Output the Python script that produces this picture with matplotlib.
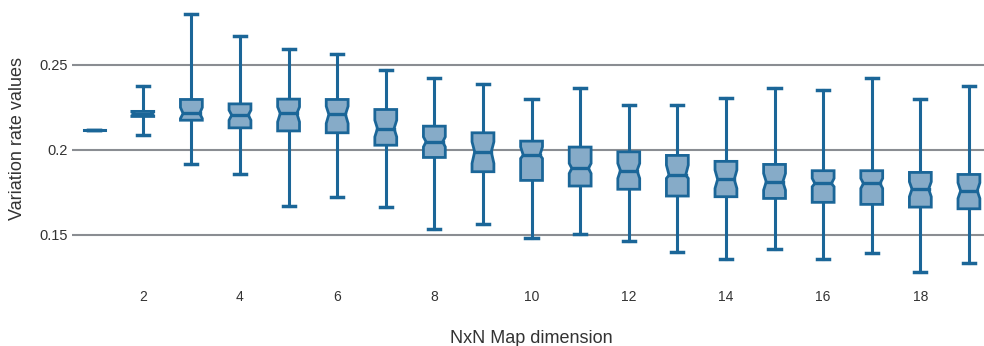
import matplotlib
matplotlib.use("Agg")
import matplotlib.pyplot as plt
from matplotlib.patches import Polygon

# NxN map dimension -> box statistics
dims = list(range(1, 20))
whisker_lo = [0.2116, 0.2087, 0.1915, 0.1854, 0.1667, 0.1721, 0.1662, 0.1531, 0.1563, 0.1479,
              0.1502, 0.1464, 0.1396, 0.1357, 0.1414, 0.1357, 0.1390, 0.1282, 0.1332]
q1 = [0.2116, 0.2195, 0.2173, 0.2128, 0.2110, 0.2099, 0.2026, 0.1954, 0.1870, 0.1819,
      0.1786, 0.1767, 0.1727, 0.1723, 0.1713, 0.1690, 0.1678, 0.1662, 0.1652]
median = [0.2116, 0.2210, 0.2213, 0.2203, 0.2213, 0.2207, 0.2124, 0.2046, 0.1987, 0.1968,
          0.1890, 0.1877, 0.1850, 0.1825, 0.1811, 0.1801, 0.1801, 0.1768, 0.1758]
q3 = [0.2116, 0.2225, 0.2295, 0.2269, 0.2297, 0.2295, 0.2236, 0.2138, 0.2099, 0.2050,
      0.2015, 0.1987, 0.1966, 0.1931, 0.1913, 0.1876, 0.1876, 0.1866, 0.1854]
whisker_hi = [0.2116, 0.2373, 0.2796, 0.2671, 0.2590, 0.2561, 0.2467, 0.2424, 0.2385, 0.2297,
              0.2361, 0.2265, 0.2265, 0.2306, 0.2361, 0.2349, 0.2422, 0.2297, 0.2377]
notch_lo = [0.2116, 0.2200, 0.2183, 0.2173, 0.2163, 0.2154, 0.2075, 0.2016, 0.1919, 0.1948,
            0.1860, 0.1831, 0.1831, 0.1772, 0.1762, 0.1782, 0.1772, 0.1723, 0.1713]
notch_hi = [0.2116, 0.2220, 0.2248, 0.2232, 0.2251, 0.2255, 0.2173, 0.2075, 0.2046, 0.2016,
            0.1919, 0.1919, 0.1909, 0.1880, 0.1860, 0.1831, 0.1831, 0.1811, 0.1805]

DARK = "#1b6698"
FILL = "#86abc8"
GRID = "#8a8d92"
TEXT = "#333333"

BOX_W = 0.45
NOTCH = 0.12  # notch depth as fraction of box width, per side

plt.rcParams["font.family"] = ["Liberation Sans", "DejaVu Sans"]

fig = plt.figure(figsize=(9.84, 3.46), dpi=100)
ax = fig.add_axes([0.073, 0.199, 0.927, 0.801])

stats = []
for i in range(len(dims)):
    stats.append(dict(med=median[i], q1=q1[i], q3=q3[i], whislo=whisker_lo[i],
                      whishi=whisker_hi[i], fliers=[]))

# whiskers and caps from bxp, boxes drawn as shallow-notched polygons
ax.bxp(stats, positions=dims, widths=BOX_W, showbox=False, showfliers=False,
       medianprops=dict(visible=False),
       whiskerprops=dict(color=DARK, linewidth=2.2),
       capprops=dict(color=DARK, linewidth=2.5),
       capwidths=0.25)

for i, x in enumerate(dims):
    if q3[i] - q1[i] <= 0:
        ax.plot([x - 0.2, x + 0.22], [median[i]] * 2, color=DARK, lw=2.2)
        continue
    l, r = x - BOX_W / 2, x + BOX_W / 2
    d = BOX_W * NOTCH
    verts = [(l, q1[i]), (r, q1[i]), (r, notch_lo[i]), (r - d, median[i]),
             (r, notch_hi[i]), (r, q3[i]), (l, q3[i]), (l, notch_hi[i]),
             (l + d, median[i]), (l, notch_lo[i])]
    ax.add_patch(Polygon(verts, closed=True, facecolor=FILL, edgecolor=DARK,
                         linewidth=2.0, zorder=3))
    ax.plot([l + d, r - d], [median[i]] * 2, color=DARK, lw=2.4, zorder=4)

ax.set_xlim(0.54, 19.31)
ax.set_ylim(0.125, 0.288)
ax.set_xticks(range(2, 19, 2))
ax.set_xticklabels([str(v) for v in range(2, 19, 2)])
ax.set_yticks([0.15, 0.2, 0.25])
ax.set_yticklabels(["0.15", "0.2", "0.25"])
ax.yaxis.grid(True, color=GRID, linewidth=1.5)
ax.set_axisbelow(True)
for s in ax.spines.values():
    s.set_visible(False)
ax.tick_params(axis="x", length=0, pad=9, labelsize=10, colors=TEXT)
ax.tick_params(axis="y", length=0, pad=3, labelsize=10.5, colors=TEXT)

ax.set_xlabel("NxN Map dimension", fontsize=13, color=TEXT)
ax.xaxis.set_label_coords(0.504, -0.19)
ax.set_ylabel("Variation rate values", fontsize=13, color=TEXT)
ax.yaxis.set_label_coords(-0.05, 0.50)

fig.savefig("out.png", dpi=100)
